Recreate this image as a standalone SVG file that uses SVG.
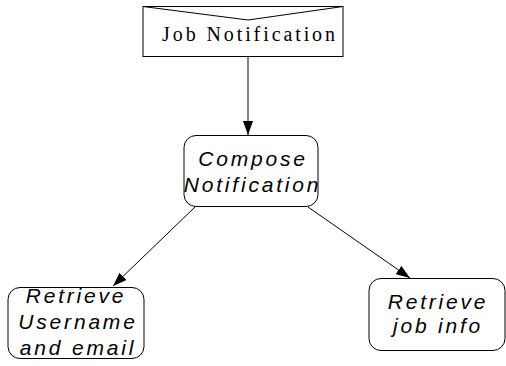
<svg xmlns="http://www.w3.org/2000/svg" width="506" height="366" viewBox="0 0 506 366">
<style>
.box{fill:#fff;stroke:#000;stroke-width:1}
.lbl{font-family:"Liberation Sans",Arial,sans-serif;font-style:italic;font-size:21px;letter-spacing:2.8px;text-anchor:middle;fill:#000}
.ser{font-family:"Liberation Serif","Times New Roman",serif;font-size:20px;letter-spacing:2.9px;text-anchor:middle;fill:#000}
.edge{stroke:#000;stroke-width:1;fill:none}
</style>
<defs>
<marker id="ah" viewBox="0 0 14 10" refX="14" refY="5" markerWidth="14" markerHeight="10" markerUnits="userSpaceOnUse" orient="auto">
<path d="M0,0 L14,5 L0,10 Z" fill="#000"/>
</marker>
</defs>
<g id="job-notification">
<rect class="box" x="143" y="6.500" width="200" height="50"/>
<path class="edge" d="M143,6.5 L248,20 L343,6.5"/>
<text class="ser" x="250" y="41">Job Notification</text>
</g>
<g id="compose-notification">
<rect class="box" x="184" y="135.500" width="134" height="71" rx="12"/>
<text class="lbl" x="253" y="166">Compose</text>
<text class="lbl" x="252.500" y="192">Notification</text>
</g>
<g id="retrieve-username">
<rect class="box" x="8" y="287.500" width="136" height="71" rx="12"/>
<text class="lbl" x="76" y="303">Retrieve</text>
<text class="lbl" x="78" y="329">Username</text>
<text class="lbl" x="78" y="355">and email</text>
</g>
<g id="retrieve-job-info">
<rect class="box" x="369" y="278.500" width="136" height="72" rx="12"/>
<text class="lbl" x="438" y="309">Retrieve</text>
<text class="lbl" x="438" y="333">job info</text>
</g>
<g id="connectors">
<line class="edge" x1="248" y1="57" x2="248" y2="135" marker-end="url(#ah)"/>
<line class="edge" x1="195" y1="207" x2="113" y2="286" marker-end="url(#ah)"/>
<line class="edge" x1="308" y1="207" x2="410" y2="278" marker-end="url(#ah)"/>
</g>
</svg>
